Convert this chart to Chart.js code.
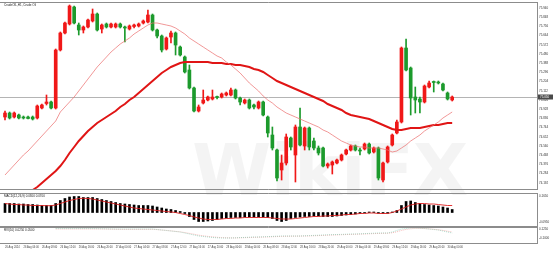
<!DOCTYPE html>
<html><head><meta charset="utf-8">
<script src="https://cdn.jsdelivr.net/npm/chart.js@4.4.1/dist/chart.umd.min.js"></script>
<style>
html,body{margin:0;padding:0;background:#fff;}
#wrap{position:relative;width:554px;height:253px;overflow:hidden;background:#fff;}
canvas{position:absolute;left:0;}
#wm{position:absolute;left:192px;top:128px;font:bold 72px "DejaVu Sans";color:rgba(0,0,0,0.045);letter-spacing:-1px;white-space:nowrap;}
</style></head><body>
<div id="wrap">
<div id="wm">WikiFX</div>
<canvas id="main" width="554" height="193" style="top:0"></canvas>
<canvas id="macd" width="554" height="34" style="top:193px"></canvas>
<canvas id="rvi" width="554" height="26" style="top:227px"></canvas>
</div>
<script>
// ---------------- data ----------------
const chartTitle = "CrudeOIL,H1, Crude Oil";
const macdTitle = "MACD(12,26,9) 0.0300 0.0700";
const rviTitle = "RVI(10) 0.0250 0.0500";

const timeLabels = ["26 Aug 2024","26 Aug 04:00","26 Aug 08:00","26 Aug 12:00","26 Aug 16:00","26 Aug 20:00",
 "27 Aug 00:00","27 Aug 04:00","27 Aug 08:00","27 Aug 12:00","27 Aug 16:00","27 Aug 20:00",
 "28 Aug 00:00","28 Aug 04:00","28 Aug 08:00","28 Aug 12:00","28 Aug 16:00","28 Aug 20:00",
 "29 Aug 00:00","29 Aug 04:00","29 Aug 08:00","29 Aug 12:00","29 Aug 16:00","29 Aug 20:00","30 Aug 00:00"];
const timeLabelIndex = [0,4,8,12,16,20,24,28,32,36,40,44,48,52,56,60,64,68,72,76,80,84,88,92,96];

const priceTicks = [75.94,75.848,75.756,75.664,75.572,75.48,75.388,75.296,75.204,75.112,75.02,
 74.928,74.836,74.744,74.652,74.56,74.468,74.376,74.284,74.192];
const macdTicks = [0.165,-0.095];
const rviTicks = [0.125,-0.1];

const open = [74.85,74.89,74.85,74.87,74.85,74.85,74.85,74.84,74.94,74.985,
 75.00,74.94,75.52,75.69,75.78,75.95,75.77,75.72,75.75,75.81,
 75.88,75.73,75.78,75.75,75.75,75.78,75.75,75.73,75.755,75.76,
 75.79,75.80,75.87,75.72,75.66,75.53,75.65,75.69,75.55,75.45,
 75.32,75.14,74.91,74.99,75.02,75.03,75.05,75.05,75.07,75.07,
 75.12,75.04,74.99,75.02,74.97,74.94,75.00,74.85,74.67,74.52,
 74.32,74.39,74.64,74.47,74.75,74.56,74.74,74.61,74.54,74.54,
 74.36,74.37,74.39,74.42,74.48,74.52,74.56,74.52,74.53,74.58,
 74.50,74.54,74.22,74.40,74.57,74.69,74.80,75.54,75.34,75.05,
 75.03,75.00,75.15,75.20,75.20,75.18,75.09,75.02];
const high = [74.91,74.90,74.90,74.88,74.86,74.86,74.86,74.97,74.98,75.07,
 75.01,75.53,75.70,75.80,75.97,75.96,75.79,75.76,75.83,75.93,
 75.89,75.78,75.79,75.79,75.79,75.79,75.76,75.77,75.78,75.79,
 75.82,75.92,75.88,75.73,75.67,75.65,75.71,75.70,75.56,75.46,
 75.37,75.15,74.97,75.12,75.06,75.12,75.06,75.09,75.10,75.14,
 75.13,75.05,75.03,75.03,74.98,75.01,75.01,74.86,74.75,74.53,
 74.47,74.68,74.65,74.77,74.94,74.75,74.75,74.64,74.56,74.55,
 74.39,74.41,74.43,74.48,74.53,74.57,74.57,74.54,74.59,74.59,
 74.55,74.55,74.40,74.56,74.68,74.82,75.55,75.63,75.35,75.15,
 75.05,75.17,75.21,75.21,75.21,75.19,75.10,75.06];
const low = [74.82,74.83,74.84,74.83,74.83,74.83,74.82,74.83,74.93,74.97,
 74.93,74.93,75.51,75.68,75.77,75.78,75.67,75.69,75.74,75.80,
 75.71,75.69,75.74,75.74,75.74,75.74,75.60,75.72,75.74,75.75,
 75.78,75.79,75.71,75.64,75.50,75.52,75.59,75.47,75.46,75.29,
 75.13,74.90,74.90,74.98,75.01,75.02,75.03,75.04,75.06,75.06,
 75.03,74.97,74.98,74.93,74.93,74.93,74.86,74.65,74.52,74.21,
 74.22,74.37,74.52,74.20,74.56,74.52,74.52,74.52,74.47,74.35,
 74.34,74.28,74.38,74.41,74.47,74.51,74.51,74.47,74.52,74.48,
 74.49,74.22,74.20,74.39,74.56,74.68,74.79,75.31,74.87,74.89,
 74.89,74.99,75.14,75.10,75.18,75.11,75.02,75.01];
const close = [74.89,74.84,74.89,74.84,74.84,74.835,74.83,74.96,74.97,75.00,
 74.94,75.52,75.69,75.79,75.96,75.79,75.72,75.75,75.82,75.88,
 75.72,75.77,75.75,75.78,75.78,75.75,75.74,75.76,75.77,75.78,
 75.81,75.87,75.72,75.66,75.52,75.64,75.69,75.57,75.47,75.30,
 75.14,74.91,74.95,75.02,75.05,75.05,75.045,75.08,75.09,75.12,
 75.04,75.00,75.02,74.94,74.95,75.00,74.87,74.69,74.54,74.24,
 74.39,74.65,74.55,74.75,74.57,74.74,74.55,74.54,74.49,74.36,
 74.38,74.40,74.42,74.47,74.52,74.56,74.52,74.51,74.58,74.49,
 74.54,74.24,74.39,74.55,74.67,74.80,75.54,75.32,75.04,75.02,
 75.00,75.16,75.19,75.195,75.19,75.12,75.03,75.05];

const maFast = [74.27,74.32,74.37,74.42,74.47,74.51,74.56,74.61,74.66,74.71,
 74.76,74.81,74.90,74.95,75.00,75.05,75.11,75.17,75.23,75.29,
 75.35,75.40,75.45,75.50,75.54,75.58,75.61,75.64,75.68,75.71,
 75.74,75.77,75.79,75.79,75.78,75.77,75.76,75.74,75.71,75.68,
 75.64,75.61,75.58,75.55,75.52,75.49,75.46,75.44,75.40,75.37,
 75.33,75.29,75.24,75.19,75.15,75.11,75.06,75.02,74.99,74.95,
 74.92,74.89,74.87,74.85,74.83,74.81,74.79,74.77,74.75,74.72,
 74.70,74.67,74.64,74.61,74.59,74.57,74.56,74.55,74.55,74.54,
 74.54,74.54,74.53,74.52,74.50,74.51,74.54,74.57,74.61,74.64,
 74.67,74.71,74.74,74.77,74.80,74.84,74.87,74.90];
const maSlow = [73.86,73.91,73.96,74.01,74.05,74.09,74.12,74.15,74.19,74.23,
 74.27,74.31,74.36,74.42,74.49,74.55,74.61,74.66,74.71,74.75,
 74.79,74.82,74.85,74.88,74.91,74.95,74.98,75.02,75.05,75.09,
 75.13,75.17,75.21,75.25,75.29,75.32,75.35,75.37,75.39,75.40,
 75.40,75.40,75.40,75.40,75.40,75.39,75.39,75.39,75.38,75.38,
 75.37,75.37,75.36,75.35,75.33,75.32,75.30,75.27,75.24,75.21,
 75.19,75.17,75.15,75.13,75.11,75.09,75.07,75.05,75.03,75.01,
 74.98,74.96,74.94,74.92,74.89,74.87,74.86,74.85,74.84,74.83,
 74.81,74.79,74.77,74.75,74.73,74.72,74.72,74.73,74.74,74.74,
 74.74,74.75,74.76,74.77,74.77,74.78,74.79,74.79];

const macdHist = [0.09,0.09,0.09,0.085,0.085,0.08,0.08,0.075,0.07,0.07,
 0.07,0.09,0.12,0.14,0.155,0.16,0.16,0.15,0.15,0.15,
 0.14,0.13,0.12,0.11,0.10,0.09,0.085,0.08,0.075,0.07,
 0.07,0.07,0.065,0.055,0.045,0.035,0.03,0.02,0.01,-0.01,
 -0.04,-0.07,-0.09,-0.09,-0.085,-0.08,-0.07,-0.06,-0.055,-0.05,
 -0.05,-0.05,-0.045,-0.045,-0.045,-0.045,-0.045,-0.05,-0.06,-0.08,
 -0.09,-0.08,-0.06,-0.05,-0.045,-0.04,-0.04,-0.035,-0.035,-0.04,
 -0.04,-0.04,-0.035,-0.03,-0.025,-0.02,-0.015,-0.01,-0.005,0.005,
 0.005,-0.008,-0.01,-0.008,0.005,0.02,0.07,0.11,0.115,0.10,
 0.09,0.08,0.075,0.07,0.065,0.055,0.045,0.03];
const macdSignal = [0.09,0.085,0.08,0.08,0.075,0.075,0.07,0.07,0.07,0.068,
 0.068,0.075,0.09,0.105,0.12,0.13,0.14,0.142,0.14,0.135,
 0.125,0.115,0.105,0.095,0.085,0.075,0.065,0.055,0.045,0.04,
 0.035,0.03,0.025,0.02,0.015,0.01,0.005,0,-0.01,-0.02,
 -0.03,-0.045,-0.055,-0.065,-0.07,-0.07,-0.07,-0.065,-0.06,-0.06,
 -0.055,-0.055,-0.05,-0.05,-0.05,-0.05,-0.05,-0.05,-0.055,-0.06,
 -0.065,-0.065,-0.065,-0.06,-0.055,-0.05,-0.045,-0.04,-0.04,-0.035,
 -0.035,-0.03,-0.03,-0.025,-0.02,-0.02,-0.015,-0.01,-0.01,-0.005,
 -0.005,-0.01,-0.01,-0.01,0,0.015,0.035,0.055,0.075,0.085,
 0.09,0.09,0.085,0.085,0.08,0.075,0.07,0.07];

const rviMain = [null,null,null,null,null,null,null,null,null,null,
 null,0.1375,0.1375,0.1375,0.1375,0.1375,0.1375,0.1375,0.1375,0.1375,
 0.135,0.1325,0.13,0.1275,0.125,0.125,0.125,0.125,0.125,0.125,
 0.125,0.125,0.125,0.1125,0.1,0.0875,0.075,0.0625,0.05,0.025,
 0,-0.025,-0.05,-0.0625,-0.075,-0.0875,-0.095,-0.1,-0.1,-0.1,
 -0.095,-0.09,-0.085,-0.08,-0.075,-0.075,-0.07,-0.065,-0.06,-0.055,
 -0.05,-0.05,-0.05,-0.05,-0.05,-0.045,-0.04,-0.035,-0.03,-0.025,
 -0.02,-0.015,-0.0125,-0.01,-0.005,0,0,0.005,0.01,0.015,
 0.02,0.025,0.025,0.025,0.05,0.0875,0.125,0.1375,0.15,0.15,
 0.145,0.1375,0.125,0.1125,0.1,0.075,0.05,0.025];
const rviSignal = [null,null,null,null,null,null,null,null,null,null,
 null,0.125,0.125,0.125,0.125,0.125,0.125,0.125,0.125,0.125,
 0.125,0.124,0.122,0.12,0.118,0.116,0.116,0.116,0.116,0.116,
 0.116,0.116,0.116,0.11,0.1,0.09,0.078,0.066,0.054,0.036,
 0.015,-0.005,-0.028,-0.045,-0.06,-0.072,-0.082,-0.09,-0.095,-0.098,
 -0.098,-0.095,-0.092,-0.088,-0.084,-0.08,-0.077,-0.073,-0.069,-0.064,
 -0.06,-0.057,-0.055,-0.054,-0.053,-0.051,-0.048,-0.044,-0.04,-0.035,
 -0.03,-0.026,-0.022,-0.018,-0.014,-0.01,-0.006,-0.003,0.001,0.005,
 0.01,0.014,0.018,0.02,0.03,0.055,0.09,0.115,0.13,0.14,
 0.14,0.136,0.128,0.118,0.106,0.09,0.07,0.05];

// ---------------- styling / layout ----------------
const UP = '#f01818', DOWN = '#1c9a2c';
const X_MIN = -1.085, X_MAX = 115.4;
const AXIS_W = 17;
Chart.defaults.font.family = '"Liberation Sans", "DejaVu Sans", sans-serif';
Chart.defaults.color = '#333';

const candleColors = open.map((o, i) => close[i] >= o ? UP : DOWN);
const xy = arr => arr.map((v, i) => ({x: i, y: v}));

function xScale(show) {
  const s = {type: 'linear', min: X_MIN, max: X_MAX, offset: false, display: show,
    grid: {display: false, drawTicks: false, offset: false}, border: {display: false}};
  if (show) {
    s.afterBuildTicks = sc => { sc.ticks = timeLabelIndex.map(v => ({value: v})); };
    s.ticks = {font: {size: 2.6}, color: '#444', align: 'start', maxRotation: 0, minRotation: 0, autoSkip: false, padding: 2,
      callback: v => timeLabels[timeLabelIndex.indexOf(v)]};
    s.afterFit = sc => { sc.height = 9; sc.paddingLeft = 0; sc.paddingRight = 0; };
  }
  return s;
}
function yScale(min, max, tickArr, digits) {
  return {type: 'linear', position: 'right', min, max, grid: {display: false, drawTicks: false}, border: {display: false},
    afterBuildTicks: sc => { sc.ticks = tickArr.map(v => ({value: v})); },
    afterFit: sc => { sc.width = AXIS_W; sc.paddingTop = 0; sc.paddingBottom = 0; },
    ticks: {font: {size: 3}, color: '#333', padding: 2, autoSkip: false, callback: v => Number(v).toFixed(digits)}};
}
function framePlugin(title, extra) {
  return {
    id: 'frame',
    beforeDatasetsDraw(chart) {
      if (extra && extra.before) extra.before(chart);
    },
    afterDraw(chart) {
      const {ctx, chartArea: a} = chart;
      ctx.save();
      ctx.strokeStyle = '#8c8c8c'; ctx.lineWidth = 1;
      ctx.beginPath();
      ctx.moveTo(0, a.top + 0.5); ctx.lineTo(a.right + 0.5, a.top + 0.5);
      ctx.moveTo(0, a.bottom - 0.5); ctx.lineTo(a.right + 0.5, a.bottom - 0.5);
      ctx.moveTo(a.right + 0.5, a.top); ctx.lineTo(a.right + 0.5, a.bottom);
      ctx.stroke();
      ctx.fillStyle = '#222'; ctx.font = '3px "Liberation Sans", sans-serif'; ctx.textBaseline = 'top';
      ctx.fillText(title, 4, a.top + 2);
      ctx.restore();
      if (extra && extra.after) extra.after(chart);
    }
  };
}
const base = {responsive: false, animation: false, devicePixelRatio: 1,
  plugins: {legend: {display: false}, tooltip: {enabled: false}}};

// ---------------- main price chart ----------------
const lastClose = close[close.length - 1];
new Chart(document.getElementById('main'), {
  type: 'bar',
  data: {datasets: [
    {type: 'line', data: xy(maFast), borderColor: 'rgba(236,112,112,0.9)', borderWidth: 0.8, pointRadius: 0, order: 0},
    {type: 'line', data: xy(maSlow), borderColor: '#e01515', borderWidth: 2, pointRadius: 0, order: 0},
    {data: low.map((l, i) => ({x: i, y: [l, high[i]]})), backgroundColor: candleColors, barThickness: 1, grouped: false, order: 2},
    {data: open.map((o, i) => ({x: i, y: [o, close[i]]})), backgroundColor: candleColors, barThickness: 3, minBarLength: 1, grouped: false, order: 1}
  ]},
  options: Object.assign({}, base, {
    layout: {padding: {top: 2, bottom: 3, left: 0, right: 0}},
    scales: {x: xScale(false), y: yScale(74.12, 76.00, priceTicks, 3)}
  }),
  plugins: [framePlugin(chartTitle, {
    before(chart) {
      const {ctx, chartArea: a, scales: {y}} = chart;
      const py = Math.round(y.getPixelForValue(lastClose)) + 0.5;
      ctx.save(); ctx.strokeStyle = '#b4b4b4'; ctx.lineWidth = 1;
      ctx.beginPath(); ctx.moveTo(a.left, py); ctx.lineTo(a.right, py); ctx.stroke(); ctx.restore();
    },
    after(chart) {
      const {ctx, chartArea: a, scales: {y}} = chart;
      const py = y.getPixelForValue(lastClose);
      ctx.save(); ctx.fillStyle = '#4a4a4a'; ctx.fillRect(a.right + 1, py - 2.5, 15, 5);
      ctx.fillStyle = '#fff'; ctx.font = '3px "Liberation Sans", sans-serif'; ctx.textBaseline = 'middle';
      ctx.fillText(lastClose.toFixed(3), a.right + 3, py); ctx.restore();
    }
  })]
});

// ---------------- MACD ----------------
new Chart(document.getElementById('macd'), {
  type: 'bar',
  data: {datasets: [
    {type: 'line', data: xy(macdSignal), borderColor: '#e02020', borderWidth: 0.9, pointRadius: 0, order: 0},
    {data: xy(macdHist), backgroundColor: '#000', barThickness: 2, grouped: false, order: 1}
  ]},
  options: Object.assign({}, base, {
    layout: {padding: 0},
    scales: {x: xScale(false), y: yScale(-0.145, 0.195, macdTicks, 4)}
  }),
  plugins: [framePlugin(macdTitle)]
});

// ---------------- RVI ----------------
new Chart(document.getElementById('rvi'), {
  type: 'line',
  data: {datasets: [
    {data: xy(rviMain), borderColor: 'rgba(110,200,170,0.7)', borderWidth: 0.8, borderDash: [1, 1], pointRadius: 0},
    {data: xy(rviSignal), borderColor: 'rgba(240,130,130,0.7)', borderWidth: 0.8, borderDash: [1, 1], pointRadius: 0}
  ]},
  options: Object.assign({}, base, {
    layout: {padding: 0},
    scales: {x: xScale(true), y: yScale(-0.25, 0.175, rviTicks, 4)}
  }),
  plugins: [framePlugin(rviTitle)]
});
</script>
</body></html>
